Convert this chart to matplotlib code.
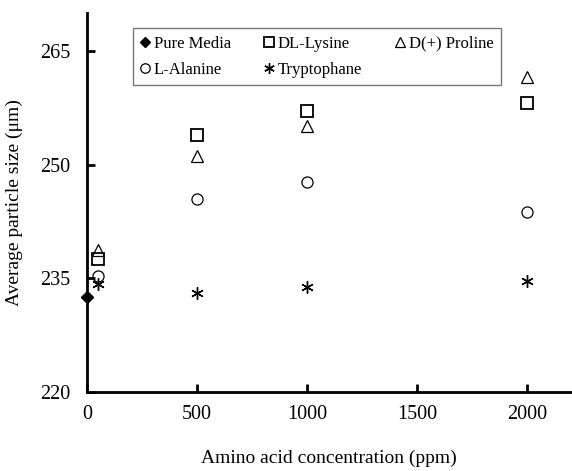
import matplotlib
matplotlib.use("Agg")
import matplotlib.pyplot as plt

plt.rcParams['font.family'] = ['Liberation Serif', 'DejaVu Serif']
plt.rcParams['mathtext.fontset'] = 'stix'

pure_x = [0]
pure_y = [232.5]
conc = [50, 500, 1000, 2000]
lysine = [237.6, 253.9, 257.1, 258.1]
proline = [238.7, 251.1, 255.1, 261.5]
alanine = [235.3, 245.5, 247.7, 243.7]
tryptophane = [234.3, 233.1, 233.9, 234.7]
xticks = [0, 500, 1000, 1500, 2000]
yticks = [220, 235, 250, 265]

fig = plt.figure(figsize=(5.72, 4.71), dpi=100)
ax = fig.add_axes([0.152, 0.1677, 0.846, 0.8047])

ms = 8
h_pm, = ax.plot(pure_x, pure_y, linestyle='none', marker='D', color='black', markersize=6, clip_on=False, zorder=5, label='Pure Media')
h_ly, = ax.plot(conc, lysine, linestyle='none', marker='s', markerfacecolor='none', markeredgecolor='black', markeredgewidth=1.3, markersize=ms, label='DL-Lysine')
h_pr, = ax.plot(conc, proline, linestyle='none', marker='^', markerfacecolor='none', markeredgecolor='black', markeredgewidth=0.9, markersize=ms, label='D(+) Proline')
h_al, = ax.plot(conc, alanine, linestyle='none', marker='o', markerfacecolor='none', markeredgecolor='black', markeredgewidth=0.9, markersize=ms, label='L-Alanine')
h_tr, = ax.plot(conc, tryptophane, linestyle='none', marker=(6, 2, 0), color='black', markeredgewidth=1.0, markersize=ms+1, label='Tryptophane')

ax.set_xlim(0, 2200)
ax.set_ylim(220, 270)
ax.set_xticks(xticks)
ax.set_yticks(yticks)
for s in ['top', 'right']:
    ax.spines[s].set_visible(False)
for s in ['left', 'bottom']:
    ax.spines[s].set_linewidth(2)
ax.tick_params(direction='in', width=2, length=6, labelsize=14.5)
ax.tick_params(axis='y', pad=12)
ax.tick_params(axis='x', pad=9)

ax.set_xlabel('Amino acid concentration (ppm)', fontsize=14, labelpad=19)
ax.set_ylabel('Average particle size (μm)', fontsize=14, labelpad=12)

leg = ax.legend([h_pm, h_al, h_ly, h_tr, h_pr],
                ['Pure Media', 'L-Alanine', 'DL-Lysine', 'Tryptophane', 'D(+) Proline'],
                ncol=3, loc='upper left', bbox_to_anchor=(0.095, 0.96),
                fontsize=12, frameon=True, fancybox=False, edgecolor='#555555',
                handlelength=0.6, handletextpad=0.2, columnspacing=2.0,
                borderpad=0.45, labelspacing=0.6, markerscale=0.85,
                borderaxespad=0)
leg.get_frame().set_linewidth(1.0)

fig.savefig('out.png', dpi=100)
